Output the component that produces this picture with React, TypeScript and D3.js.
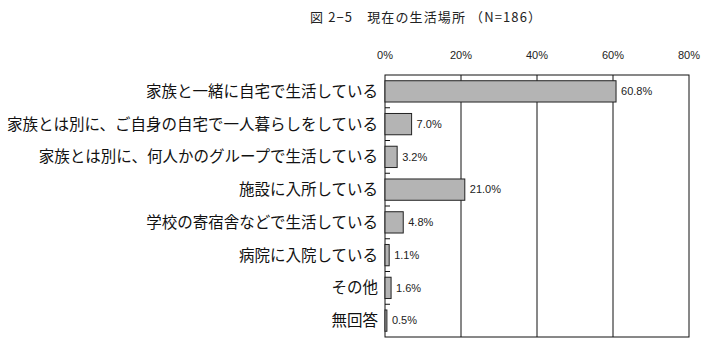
import React, { useRef, useEffect } from 'react';
import * as d3 from 'd3';

const categories = [
  '家族と一緒に自宅で生活している',
  '家族とは別に、ご自身の自宅で一人暮らしをしている',
  '家族とは別に、何人かのグループで生活している',
  '施設に入所している',
  '学校の寄宿舎などで生活している',
  '病院に入院している',
  'その他',
  '無回答',
];
const values = [60.8, 7.0, 3.2, 21.0, 4.8, 1.1, 1.6, 0.5];
const xTicks = [0, 20, 40, 60, 80];
const title = '図 2−5　現在の生活場所 （N=186）';

export default function App() {
  const ref = useRef<SVGSVGElement>(null);
  const outerWidth = 708, outerHeight = 361;
  const margin = { top: 75, right: 19, bottom: 24, left: 385 };
  const width = outerWidth - margin.left - margin.right;
  const height = outerHeight - margin.top - margin.bottom;

  useEffect(() => {
    const svg = d3.select(ref.current);
    svg.selectAll('*').remove();

    svg.append('text')
      .attr('x', 310)
      .attr('y', 22)
      .attr('font-family', '"Noto Sans CJK JP", sans-serif')
      .attr('font-size', 13)
      .attr('fill', '#222')
      .attr('textLength', 231)
      .attr('lengthAdjust', 'spacing')
      .text(title);

    const g = svg.append('g').attr('transform', `translate(${margin.left},${margin.top})`);

    const x = d3.scaleLinear().domain([0, 80]).range([0, width]);
    const y = d3.scaleBand().domain(categories).range([0, height]).paddingInner(0.35).paddingOuter(0.175);

    // vertical grid lines
    g.selectAll('line.grid')
      .data(xTicks.slice(1, -1))
      .enter().append('line')
      .attr('x1', (d) => x(d)).attr('x2', (d) => x(d))
      .attr('y1', 0).attr('y2', height)
      .attr('stroke', '#111').attr('stroke-width', 1);

    // frame
    g.append('rect')
      .attr('x', 0).attr('y', 0).attr('width', width).attr('height', height)
      .attr('fill', 'none').attr('stroke', '#111').attr('stroke-width', 1);

    // top tick labels
    g.selectAll('text.xt')
      .data(xTicks)
      .enter().append('text')
      .attr('x', (d) => x(d))
      .attr('y', -16)
      .attr('text-anchor', 'middle')
      .attr('font-family', 'Arial, "Liberation Sans", sans-serif')
      .attr('font-size', 11)
      .attr('fill', '#222')
      .text((d) => d + '%');

    // y axis ticks at band boundaries
    const step = height / categories.length;
    g.selectAll('line.yt')
      .data(d3.range(1, categories.length))
      .enter().append('line')
      .attr('x1', 0).attr('x2', 5)
      .attr('y1', (d) => d * step).attr('y2', (d) => d * step)
      .attr('stroke', '#111');

    // bars
    g.selectAll('rect.bar')
      .data(values)
      .enter().append('rect')
      .attr('x', 0)
      .attr('y', (d, i) => y(categories[i]) as number)
      .attr('width', (d) => x(d))
      .attr('height', y.bandwidth())
      .attr('fill', '#b4b4b4')
      .attr('stroke', '#222')
      .attr('stroke-width', 1);

    // value labels
    g.selectAll('text.val')
      .data(values)
      .enter().append('text')
      .attr('x', (d) => x(d) + 5)
      .attr('y', (d, i) => (y(categories[i]) as number) + y.bandwidth() / 2)
      .attr('dy', '0.35em')
      .attr('font-family', 'Arial, "Liberation Sans", sans-serif')
      .attr('font-size', 11)
      .attr('fill', '#222')
      .text((d) => d.toFixed(1) + '%');

    // category labels
    g.selectAll('text.cat')
      .data(categories)
      .enter().append('text')
      .attr('x', -7)
      .attr('y', (d) => (y(d) as number) + y.bandwidth() / 2)
      .attr('dy', '0.35em')
      .attr('text-anchor', 'end')
      .attr('font-family', '"Noto Sans CJK JP", sans-serif')
      .attr('font-size', 15.5)
      .attr('fill', '#111')
      .text((d) => d);
  }, []);

  return (
    <div style={{ position: 'absolute', left: 0, top: 0 }}>
      <svg ref={ref} width={outerWidth} height={outerHeight} style={{ background: '#fff', display: 'block' }}></svg>
    </div>
  );
}
